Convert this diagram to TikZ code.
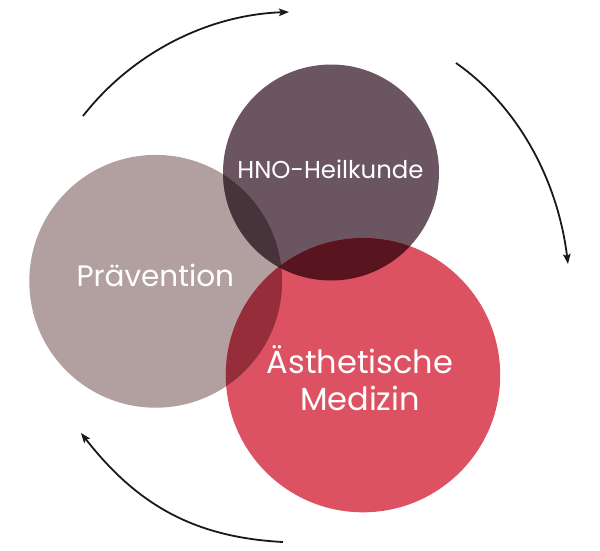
\documentclass[tikz,border=0pt]{standalone}
\usepackage{fontspec}
\setmainfont{Poppins}
\usetikzlibrary{arrows.meta}
\definecolor{praecol}{HTML}{B1A09F}
\definecolor{hnocol}{HTML}{6B5561}
\definecolor{aescol}{HTML}{DC5262}
\definecolor{phcol}{HTML}{47333A}
\definecolor{hacol}{HTML}{58141F}
\definecolor{pacol}{HTML}{962D3A}
\definecolor{phacol}{HTML}{3D1A22}
\newcommand{\rP}{126.4}
\newcommand{\rH}{108}
\newcommand{\rA}{137.2}

\begin{document}
\begin{tikzpicture}[x=1pt,y=-1pt,
  circtext/.style={text=white,align=center,anchor=base,inner sep=0pt},
  cycle/.style={line width=1.8pt,draw=black!90,-{Stealth[length=10pt,width=7.5pt,inset=2pt]}}]
  \useasboundingbox (0,0) rectangle (600,550);
  \coordinate (p) at (155.7,281.3);
  \coordinate (h) at (331,172.5);
  \coordinate (a) at (363,375.1);

  \fill[praecol] (p) circle[radius=\rP];
  \fill[hnocol] (h) circle[radius=\rH];
  \fill[aescol] (a) circle[radius=\rA];

  \begin{scope}
    \clip (p) circle[radius=\rP];
    \fill[phcol] (h) circle[radius=\rH];
    \fill[pacol] (a) circle[radius=\rA];
    \clip (h) circle[radius=\rH];
    \fill[phacol] (a) circle[radius=\rA];
  \end{scope}
  \begin{scope}
    \clip (h) circle[radius=\rH];
    \clip (a) circle[radius=\rA];
    \fill[hacol] (a) circle[radius=\rA];
    \clip (p) circle[radius=\rP];
    \fill[phacol] (a) circle[radius=\rA];
  \end{scope}

  \node[circtext,font=\fontsize{24.4}{29}\selectfont] (hno) at (330.5,178.3) {HNO-Heilkunde};
  \node[circtext,font=\fontsize{29.5}{35}\selectfont] (prae) at (155.3,286.7) {Prävention};
  \node[circtext,font=\fontsize{32}{37}\selectfont] (aes) at (360,410) {Ästhetische\\Medizin};

  \coordinate (t1) at (83,116);
  \coordinate (t2) at (289,12);
  \coordinate (t3) at (456,63);
  \coordinate (t4) at (568,264);
  \coordinate (t5) at (283,542);
  \coordinate (t6) at (81,433);
  \draw[cycle] (t1) .. controls (132.7,52.4) and (208.4,14.8) .. (t2);
  \draw[cycle] (t3) .. controls (521.5,108.9) and (558.3,184.6) .. (t4);
  \draw[cycle] (t5) .. controls (193.1,537.3) and (136.4,503.9) .. (t6);
\end{tikzpicture}
\end{document}
